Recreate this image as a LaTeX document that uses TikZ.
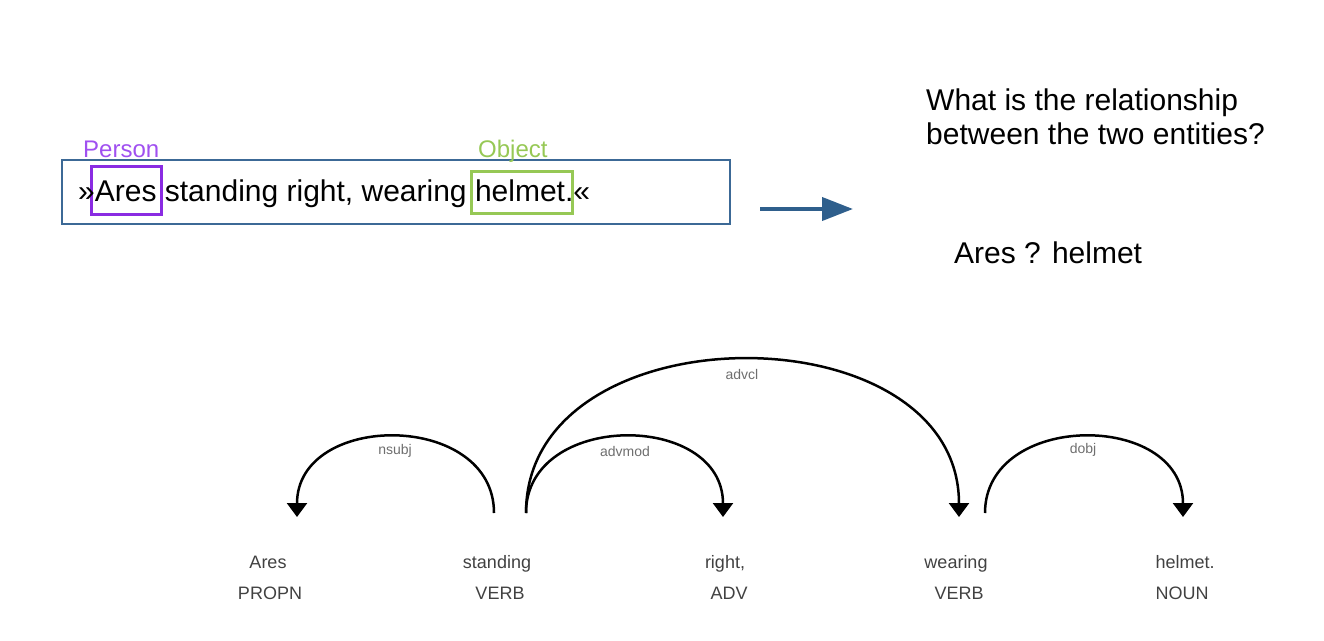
\documentclass[tikz,border=0pt]{standalone}
\usepackage{fontspec}
\setmainfont{Liberation Sans}
\usetikzlibrary{arrows.meta}
\definecolor{boxblue}{RGB}{47,95,140}
\definecolor{framecol}{RGB}{60,105,150}
\definecolor{perscol}{RGB}{138,43,226}
\definecolor{perslab}{RGB}{160,80,240}
\definecolor{objcol}{RGB}{150,200,85}
\definecolor{deptext}{RGB}{65,65,65}
\definecolor{deplab}{RGB}{110,110,110}
\begin{document}
\begin{tikzpicture}[x=1pt,y=-1pt,
  bigtext/.style={font=\fontsize{30}{34}\selectfont, inner sep=0pt, anchor=base west},
  tag/.style={font=\fontsize{24}{28}\selectfont, inner sep=0pt, anchor=base west},
  word/.style={font=\fontsize{18}{22}\selectfont, text=deptext, inner sep=0pt, anchor=base},
  rel/.style={font=\fontsize{14}{16}\selectfont, text=deplab, inner sep=0pt},
  arc/.style={line width=2.5pt, black, -{Triangle[width=20pt,length=14pt]}},
  hl/.style={line width=2.5pt, minimum height=0pt, anchor=north west, inner sep=0pt}]
\useasboundingbox (0,0) rectangle (1324,640);

% sentence box
\node[draw=framecol, line width=1.5pt, minimum width=668pt, minimum height=64pt, anchor=north west, inner sep=0pt] (sbox) at (61,159) {};
\node[hl, draw=perscol, minimum width=70pt, minimum height=48pt] (pbox) at (90,165) {};
\node[hl, draw=objcol, minimum width=101pt, minimum height=42pt] (obox) at (470,170) {};
\node[bigtext] (sent) at (78,201) {»Ares standing right, wearing helmet.«};
\node[tag, text=perslab] (person) at (83,157) {Person};
\node[tag, text=objcol] (object) at (478,157) {Object};

% arrow
\coordinate (a1) at (760,209);
\coordinate (a2) at (853,209);
\draw[boxblue, line width=4pt, -{Triangle[width=23pt,length=31pt]}] (a1) -- (a2);

% question
\node[bigtext] (q1) at (926,110) {What is the relationship};
\node[bigtext] (q2) at (926,144) {between the two entities?};
\node[bigtext] (ans) at (954,263) {Ares ? helmet};

% dependency words
\node[word] (w1) at (268,568) {Ares};
\node[word] (w2) at (497,568) {standing};
\node[word] (w3) at (725,568) {right,};
\node[word] (w4) at (956,568) {wearing};
\node[word] (w5) at (1185,568) {helmet.};
\node[word] (p1) at (270,599) {PROPN};
\node[word] (p2) at (500,599) {VERB};
\node[word] (p3) at (729,599) {ADV};
\node[word] (p4) at (959,599) {VERB};
\node[word] (p5) at (1182,599) {NOUN};

% arc endpoints
\coordinate (s1) at (494,513);
\coordinate (e1) at (297,517);
\coordinate (s2) at (526,513);
\coordinate (e2) at (723,517);
\coordinate (s3) at (526,513);
\coordinate (e3) at (959,517);
\coordinate (s4) at (985,513);
\coordinate (e4) at (1183,517);

\draw[arc] (s1) .. controls (494,411) and (297,411) .. (e1);
\draw[arc] (s2) .. controls (526,411) and (723,411) .. (e2);
\draw[arc] (s3) .. controls (526,308) and (959,308) .. (e3);
\draw[arc] (s4) .. controls (985,411) and (1183,411) .. (e4);

\node[rel] (l1) at (395,451) {nsubj};
\node[rel] (l2) at (625,451) {advmod};
\node[rel] (l3) at (742,374) {advcl};
\node[rel] (l4) at (1083,450) {dobj};
\end{tikzpicture}
\end{document}
